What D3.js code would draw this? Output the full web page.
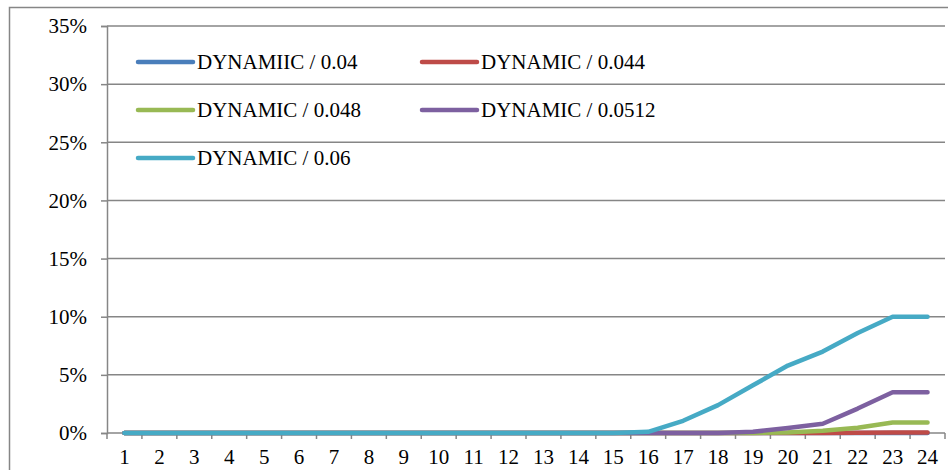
<!DOCTYPE html>
<html>
<head>
<meta charset="utf-8">
<script src="https://cdn.jsdelivr.net/npm/d3@7"></script>
</head>
<body style="margin:0;background:#fff">
<svg width="948" height="470"></svg>
<script>
const periods = d3.range(1, 25);
const seriesNames = ['DYNAMIIC / 0.04', 'DYNAMIC / 0.044', 'DYNAMIC / 0.048', 'DYNAMIC / 0.0512', 'DYNAMIC / 0.06'];
const seriesColors = ['#4a7ebb', '#be4b48', '#98b954', '#7d60a0', '#46aac5'];
const yTicks = [0, 0.05, 0.10, 0.15, 0.20, 0.25, 0.30, 0.35];

const dyn040 = [0, 0, 0, 0, 0, 0, 0, 0, 0, 0, 0, 0, 0, 0, 0, 0, 0, 0, 0, 0, 0, 0, 0, 0];
const dyn044 = [0, 0, 0, 0, 0, 0, 0, 0, 0, 0, 0, 0, 0, 0, 0, 0, 0, 0, 0, 0, 0, 0.0003, 0.0005, 0.0005];
const dyn048 = [0, 0, 0, 0, 0, 0, 0, 0, 0, 0, 0, 0, 0, 0, 0, 0, 0, 0, 0, 0.0005, 0.002, 0.0045, 0.009, 0.009];
const dyn0512 = [0, 0, 0, 0, 0, 0, 0, 0, 0, 0, 0, 0, 0, 0, 0, 0, 0, 0, 0.001, 0.0043, 0.008, 0.021, 0.035, 0.035];
const dyn060 = [0, 0, 0, 0, 0, 0, 0, 0, 0, 0, 0, 0, 0, 0, 0, 0.001, 0.0105, 0.024, 0.041, 0.058, 0.07, 0.086, 0.1, 0.1];

const allSeries = [dyn040, dyn044, dyn048, dyn0512, dyn060];

const margin = { top: 26, right: 3, bottom: 37, left: 107 };
const width = 948, height = 470;
const gridColor = '#868686';
const font = '"Liberation Serif"';
const fontSize = '21px';

const svg = d3.select('svg');

// outer chart border (cropped at right and bottom)
svg.append('rect')
  .attr('x', 9.5).attr('y', 7.5)
  .attr('width', 960).attr('height', 480)
  .attr('fill', 'none')
  .attr('stroke', gridColor)
  .attr('stroke-width', 1.5);

const x = d3.scaleBand()
  .domain(periods)
  .range([margin.left, width - margin.right]);

const y = d3.scaleLinear()
  .domain([0, 0.35])
  .range([height - margin.bottom, margin.top]);

// gridlines
svg.append('g')
  .selectAll('line')
  .data(yTicks.filter(d => d > 0))
  .join('line')
  .attr('x1', margin.left).attr('x2', width - margin.right)
  .attr('y1', d => y(d)).attr('y2', d => y(d))
  .attr('stroke', gridColor)
  .attr('stroke-width', 1.5);

// y axis
const yAxis = svg.append('g')
  .attr('transform', `translate(${margin.left},0)`)
  .call(d3.axisLeft(y).tickValues(yTicks).tickFormat(d3.format('.0%')).tickSize(6).tickPadding(14));
yAxis.select('.domain').attr('stroke', gridColor).attr('stroke-width', 1.5);
yAxis.selectAll('.tick line').attr('stroke', gridColor).attr('stroke-width', 1.5);
yAxis.selectAll('.tick text')
  .style('font-family', font)
  .style('font-size', fontSize)
  .attr('fill', '#000');

// x axis with ticks between categories
const xAxisG = svg.append('g')
  .attr('transform', `translate(0,${y(0)})`);
xAxisG.append('line')
  .attr('x1', margin.left).attr('x2', width - margin.right)
  .attr('stroke', gridColor).attr('stroke-width', 1.5);
const boundaries = periods.map(p => x(p)).concat([x(periods[periods.length - 1]) + x.bandwidth()]);
xAxisG.selectAll('line.tk')
  .data(boundaries)
  .join('line')
  .attr('class', 'tk')
  .attr('x1', d => d).attr('x2', d => d)
  .attr('y1', 0).attr('y2', 6)
  .attr('stroke', gridColor).attr('stroke-width', 1.5);
xAxisG.selectAll('text')
  .data(periods)
  .join('text')
  .attr('x', d => x(d) + x.bandwidth() / 2)
  .attr('y', 31)
  .attr('text-anchor', 'middle')
  .style('font-family', font)
  .style('font-size', fontSize)
  .attr('fill', '#000')
  .text(d => d);

// series lines
const line = d3.line()
  .x((d, i) => x(periods[i]) + x.bandwidth() / 2)
  .y(d => y(d));

svg.append('g')
  .selectAll('path')
  .data(allSeries)
  .join('path')
  .attr('d', line)
  .attr('fill', 'none')
  .attr('stroke', (d, i) => seriesColors[i])
  .attr('stroke-width', 4.5)
  .attr('stroke-linecap', 'round')
  .attr('stroke-linejoin', 'round');

// legend
const legendCols = [138, 422];
const legendRows = [62, 110, 158];
const legend = svg.append('g')
  .selectAll('g')
  .data(seriesNames)
  .join('g')
  .attr('transform', (d, i) => `translate(${legendCols[i % 2]},${legendRows[Math.floor(i / 2)]})`);
legend.append('line')
  .attr('x1', 0).attr('x2', 55)
  .attr('stroke', (d, i) => seriesColors[i])
  .attr('stroke-width', 4.5)
  .attr('stroke-linecap', 'round');
legend.append('text')
  .attr('x', 59)
  .attr('y', 7)
  .style('font-family', font)
  .style('font-size', fontSize)
  .attr('fill', '#000')
  .text(d => d);
</script>
</body>
</html>
